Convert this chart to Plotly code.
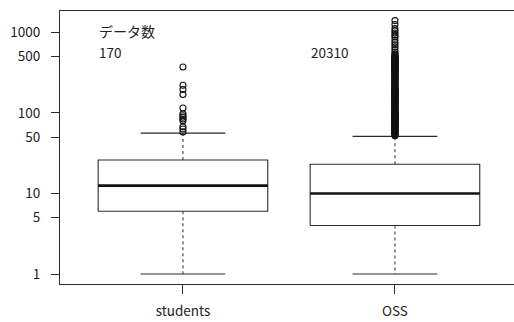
import plotly.graph_objects as go
import math

categories = ["students", "OSS"]
counts = [170, 20310]
lower_whisker = [1, 1]
q1 = [6, 4]
median = [12.5, 10]
q3 = [26, 23]
upper_whisker = [56, 51]

students_outliers = [371, 220, 195, 169, 115, 97, 92, 88, 84, 80, 67, 63, 58]
oss_outliers = [
    52, 53, 54, 55, 56, 57, 58, 59, 60, 61, 62, 63, 64, 65, 66, 67, 68, 69, 70,
    71, 72, 73, 74, 75, 76, 77, 78, 79, 80, 81, 82, 83, 84, 85, 86, 87, 88, 89,
    90, 91, 92, 93, 94, 95, 96, 97, 98, 99, 100, 102, 104, 106, 108, 110, 112,
    114, 116, 118, 120, 122, 124, 126, 128, 130, 132, 134, 136, 138, 140, 142,
    144, 146, 148, 150, 152, 154, 156, 158, 160, 162, 164, 166, 168, 170, 172,
    174, 176, 178, 180, 182, 184, 186, 188, 190, 192, 194, 196, 198, 200, 205,
    210, 215, 220, 225, 230, 235, 240, 245, 250, 255, 260, 265, 270, 275, 280,
    285, 290, 295, 300, 305, 310, 315, 320, 325, 330, 335, 340, 345, 350, 355,
    360, 365, 370, 375, 380, 385, 390, 395, 400, 405, 410, 415, 420, 425, 430,
    435, 440, 445, 450, 455, 460, 465, 470, 475, 480, 485, 490, 500, 510, 525,
    540, 570, 610, 657, 700, 745, 800, 875, 920, 980, 1040, 1111, 1250, 1396,
]
outliers = [students_outliers, oss_outliers]

ytick_vals = [1, 5, 10, 50, 100, 500, 1000]
header_label = "データ数"

FONT = "Noto Sans CJK JP"
LINE = "#2b2b2b"
HALF = 0.4
CAP = 0.2

fig = go.Figure()

for i, cat in enumerate(categories):
    p = i + 1
    # box
    fig.add_trace(go.Scatter(
        x=[p - HALF, p + HALF, p + HALF, p - HALF, p - HALF],
        y=[q1[i], q1[i], q3[i], q3[i], q1[i]],
        mode="lines", line=dict(color=LINE, width=1.1),
        hoverinfo="skip", showlegend=False))
    # median
    fig.add_trace(go.Scatter(
        x=[p - HALF, p + HALF], y=[median[i], median[i]],
        mode="lines", line=dict(color="#111", width=2.6),
        hoverinfo="skip", showlegend=False))
    # whiskers (dashed)
    fig.add_trace(go.Scatter(
        x=[p, p, None, p, p],
        y=[q3[i], upper_whisker[i], None, q1[i], lower_whisker[i]],
        mode="lines", line=dict(color=LINE, width=1, dash="3px,3px"),
        hoverinfo="skip", showlegend=False))
    # caps
    fig.add_trace(go.Scatter(
        x=[p - CAP, p + CAP, None, p - CAP, p + CAP],
        y=[upper_whisker[i], upper_whisker[i], None, lower_whisker[i], lower_whisker[i]],
        mode="lines", line=dict(color=LINE, width=1.1),
        hoverinfo="skip", showlegend=False))
    # outliers
    fig.add_trace(go.Scatter(
        x=[p] * len(outliers[i]), y=outliers[i],
        mode="markers",
        marker=dict(symbol="circle-open", size=6, color="#111", line=dict(width=1.1)),
        hoverinfo="skip", showlegend=False))

annotations = [
    dict(x=0.6, y=math.log10(1000), xref="x", yref="y", text=header_label,
         showarrow=False, xanchor="left", yanchor="middle", yshift=1,
         borderpad=0,
         font=dict(family=FONT, size=14, color="#222")),
]
for i, c in enumerate(counts):
    annotations.append(dict(
        x=i + 0.6, y=math.log10(600), xref="x", yref="y", text=str(c),
        showarrow=False, xanchor="left", yanchor="middle", yshift=-1.5,
        borderpad=0,
        font=dict(family=FONT, size=13.5, color="#222")))

fig.update_layout(
    width=514, height=322,
    margin=dict(l=60, r=0, t=11, b=38),
    paper_bgcolor="white", plot_bgcolor="white",
    font=dict(family=FONT, size=13.5, color="#222"),
    annotations=annotations,
    xaxis=dict(
        range=[0.42, 2.5615],
        tickvals=[i + 1 for i in range(len(categories))],
        ticktext=categories,
        ticks="outside", ticklen=9, tickcolor=LINE, tickwidth=1,
        showline=True, linecolor=LINE, linewidth=1.2, mirror=True,
        showgrid=False, zeroline=False,
        ticklabelstandoff=6,
    ),
    yaxis=dict(
        type="log",
        range=[-0.124, 3.264],
        tickvals=ytick_vals,
        ticktext=[str(v) for v in ytick_vals],
        ticks="outside", ticklen=8, tickcolor=LINE, tickwidth=1,
        showline=True, linecolor=LINE, linewidth=1.2,
        showgrid=False, zeroline=False,
        ticklabelstandoff=8,
    ),
)

fig.write_html("out.html")
